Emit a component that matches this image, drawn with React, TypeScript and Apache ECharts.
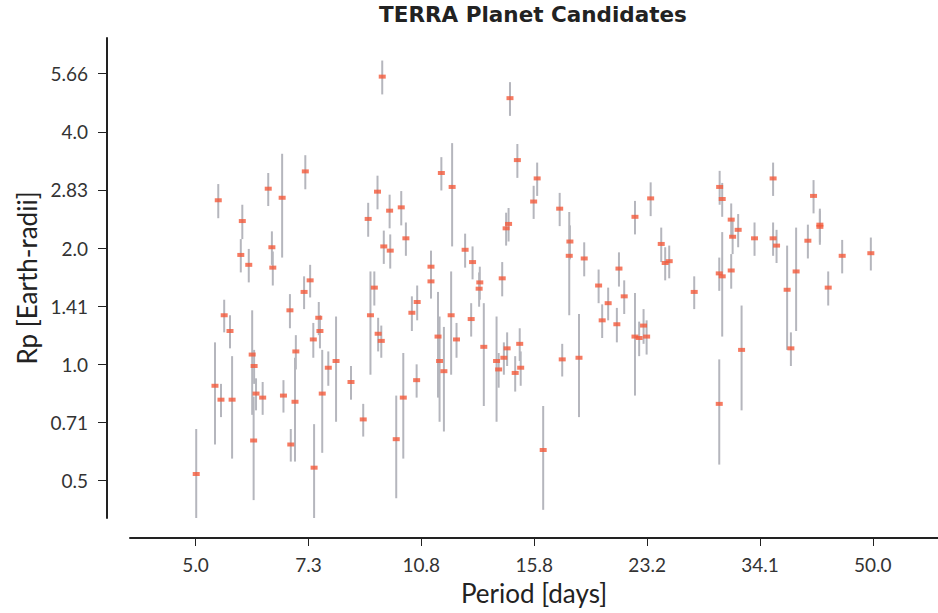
import React, { useEffect, useRef } from "react";
import * as echarts from "echarts";

// Orbital period [days] of each TERRA candidate
const period = [
  5.01, 5.34, 5.40, 5.45, 5.51, 5.62, 5.66, 5.83, 5.86, 5.99,
  6.06, 6.09, 6.10, 6.14, 6.28, 6.40, 6.48, 6.50, 6.71, 6.74,
  6.89, 6.91, 7.01, 7.03, 7.23, 7.26, 7.38, 7.46, 7.48, 7.60,
  7.63, 7.69, 7.85, 8.06, 8.48, 8.84, 8.99, 9.06, 9.18, 9.28,
  9.30, 9.40, 9.43, 9.48, 9.67, 9.69, 9.89, 10.06, 10.13, 10.22,
  10.43, 10.60, 10.62, 11.13, 11.13, 11.40, 11.46, 11.53, 11.63, 11.92,
  11.96, 12.14, 12.50, 12.76, 12.82, 13.11, 13.14, 13.32, 13.91, 14.01,
  14.18, 14.26, 14.37, 14.42, 14.49, 14.56, 14.82, 14.93, 15.05, 15.10,
  15.78, 15.97, 16.30, 17.24, 17.39, 17.81, 17.85, 18.41, 18.74, 19.68,
  19.92, 20.33, 20.94, 21.09, 21.47, 22.27, 22.27, 22.59, 22.93, 23.17,
  23.49, 24.35, 24.68, 25.02, 27.24, 29.66, 29.66, 29.70, 29.96, 29.96,
  30.89, 30.89, 31.04, 31.63, 32.00, 33.44, 35.62, 35.62, 36.04, 37.36,
  37.84, 38.52, 40.09, 40.87, 41.76, 41.76, 42.96, 45.05, 49.66,
];

// Planet radius [Earth radii]
const radius = [
  0.52, 0.88, 2.66, 0.81, 1.34, 1.22, 0.81, 1.92, 2.35, 1.81,
  1.06, 0.635, 0.99, 0.84, 0.82, 2.85, 2.01, 1.78, 2.70, 0.83,
  1.38, 0.62, 0.80, 1.08, 1.54, 3.16, 1.65, 1.16, 0.54, 1.32,
  1.22, 0.84, 0.98, 1.02, 0.90, 0.72, 2.38, 1.34, 1.58, 2.80,
  1.20, 1.15, 5.56, 2.02, 2.50, 1.97, 0.64, 2.55, 0.82, 2.12,
  1.36, 0.91, 1.45, 1.79, 1.64, 1.18, 1.02, 3.13, 0.96, 1.34,
  2.88, 1.16, 1.98, 1.31, 1.84, 1.57, 1.63, 1.11, 1.02, 0.97,
  1.67, 1.04, 2.25, 1.10, 2.31, 4.89, 0.95, 3.38, 1.13, 0.98,
  2.64, 3.03, 0.60, 2.53, 1.03, 1.91, 2.08, 1.04, 1.88, 1.60,
  1.30, 1.44, 1.27, 1.77, 1.50, 2.41, 1.18, 1.17, 1.26, 1.18,
  2.69, 2.05, 1.83, 1.85, 1.54, 1.72, 0.79, 2.88, 2.68, 1.69,
  2.37, 1.75, 2.14, 2.23, 1.09, 2.12, 3.03, 2.12, 2.03, 1.56,
  1.10, 1.74, 2.09, 2.73, 2.30, 2.27, 1.58, 1.91, 1.94,
];

// 1-sigma radius uncertainty [Earth radii]
const radiusErr = [
  0.16, 0.26, 0.27, 0.08, 0.13, 0.12, 0.24, 0.19, 0.24, 0.18,
  0.32, 0.19, 0.10, 0.08, 0.08, 0.28, 0.20, 0.18, 0.81, 0.08,
  0.14, 0.06, 0.24, 0.11, 0.15, 0.32, 0.16, 0.12, 0.16, 0.13,
  0.12, 0.25, 0.10, 0.31, 0.09, 0.07, 0.24, 0.40, 0.16, 0.28,
  0.12, 0.11, 0.56, 0.20, 0.25, 0.20, 0.19, 0.26, 0.25, 0.21,
  0.14, 0.09, 0.15, 0.18, 0.16, 0.36, 0.31, 0.31, 0.29, 0.40,
  0.86, 0.12, 0.20, 0.13, 0.18, 0.16, 0.16, 0.33, 0.31, 0.10,
  0.17, 0.10, 0.22, 0.11, 0.23, 0.49, 0.10, 0.34, 0.11, 0.10,
  0.26, 0.30, 0.18, 0.25, 0.10, 0.57, 0.21, 0.31, 0.19, 0.16,
  0.13, 0.14, 0.13, 0.18, 0.15, 0.24, 0.35, 0.12, 0.13, 0.12,
  0.27, 0.21, 0.18, 0.18, 0.15, 0.17, 0.24, 0.29, 0.27, 0.51,
  0.24, 0.18, 0.21, 0.22, 0.33, 0.21, 0.30, 0.21, 0.20, 0.47,
  0.11, 0.52, 0.21, 0.27, 0.23, 0.23, 0.16, 0.19, 0.19,
];

// Log-spaced tick positions and their labels
const periodTicks = [5, 7.34, 10.77, 15.81, 23.21, 34.07, 50];
const periodTickLabels = ["5.0", "7.3", "10.8", "15.8", "23.2", "34.1", "50.0"];
const radiusTicks = [0.5, 0.7071, 1, 1.4142, 2, 2.8284, 4, 5.6569];
const radiusTickLabels = ["0.5", "0.71", "1.0", "1.41", "2.0", "2.83", "4.0", "5.66"];

const PERIOD_RANGE = [4, 62.4];
const RADIUS_RANGE = [0.4, 7];

const FONT = "Lato, 'Noto Sans', sans-serif";
const TITLE_FONT = "'DejaVu Sans', sans-serif";
const INK = "#222222";

const lg = (v: number) => Math.log10(v);

const labelFor = (ticks: number[], labels: string[]) => (v: number) => {
  let best = 0;
  for (let i = 1; i < ticks.length; i++) {
    if (Math.abs(lg(ticks[i]) - v) < Math.abs(lg(ticks[best]) - v)) best = i;
  }
  return labels[best];
};

export default function App() {
  const ref = useRef<HTMLDivElement>(null);

  useEffect(() => {
    if (!ref.current) return;
    const chart = echarts.init(ref.current, undefined, { renderer: "svg" });

    const bars = period.map((p, i) => [
      lg(p),
      lg(radius[i] - radiusErr[i]),
      lg(radius[i] + radiusErr[i]),
    ]);
    const points = period.map((p, i) => [lg(p), lg(radius[i])]);

    chart.setOption({
      animation: false,
      backgroundColor: "#ffffff",
      title: {
        text: "TERRA Planet Candidates",
        left: 533,
        top: 3,
        padding: 0,
        textAlign: "center",
        textStyle: { fontFamily: TITLE_FONT, fontSize: 21.5, fontWeight: "bold", color: INK },
      },
      grid: { left: 130, right: 0, top: 38, bottom: 95, outerBoundsMode: "none" },
      xAxis: {
        type: "value",
        min: lg(PERIOD_RANGE[0]),
        max: lg(PERIOD_RANGE[1]),
        offset: 20,
        name: "Period [days]",
        nameLocation: "middle",
        nameGap: 42,
        nameTextStyle: { fontFamily: FONT, fontSize: 26, color: INK },
        axisLine: { onZero: false, lineStyle: { color: INK, width: 2 } },
        axisTick: {
          customValues: periodTicks.map(lg),
          length: 8,
          lineStyle: { color: INK, width: 1 },
        },
        axisLabel: {
          customValues: periodTicks.map(lg),
          formatter: labelFor(periodTicks, periodTickLabels),
          fontFamily: FONT,
          fontSize: 19,
          color: "#333333",
          margin: 17,
        },
        splitLine: { show: false },
      },
      yAxis: {
        type: "value",
        min: lg(RADIUS_RANGE[0]),
        max: lg(RADIUS_RANGE[1]),
        offset: 23,
        name: "Rp [Earth-radii]",
        nameLocation: "middle",
        nameGap: 66,
        nameTextStyle: { fontFamily: FONT, fontSize: 26, color: INK },
        axisLine: { onZero: false, lineStyle: { color: INK, width: 2 } },
        axisTick: {
          customValues: radiusTicks.map(lg),
          length: 9,
          lineStyle: { color: INK, width: 1 },
        },
        axisLabel: {
          customValues: radiusTicks.map(lg),
          formatter: labelFor(radiusTicks, radiusTickLabels),
          fontFamily: FONT,
          fontSize: 19,
          color: "#333333",
          margin: 19,
        },
        splitLine: { show: false },
      },
      series: [
        {
          type: "custom",
          name: "error",
          clip: true,
          data: bars,
          renderItem: (_params: any, api: any) => {
            const lo = api.coord([api.value(0), api.value(1)]);
            const hi = api.coord([api.value(0), api.value(2)]);
            return {
              type: "line",
              shape: { x1: lo[0], y1: lo[1], x2: hi[0], y2: hi[1] },
              style: { stroke: "#b5b6bd", lineWidth: 2 },
            };
          },
        },
        {
          type: "scatter",
          name: "Rp",
          data: points,
          symbol: "rect",
          symbolSize: [7, 4],
          itemStyle: { color: "#f45a3b" },
        },
      ],
    });

    return () => chart.dispose();
  }, []);

  return (
    <div
      ref={ref}
      style={{ position: "absolute", left: 0, top: 0, width: 938, height: 613 }}
    />
  );
}
